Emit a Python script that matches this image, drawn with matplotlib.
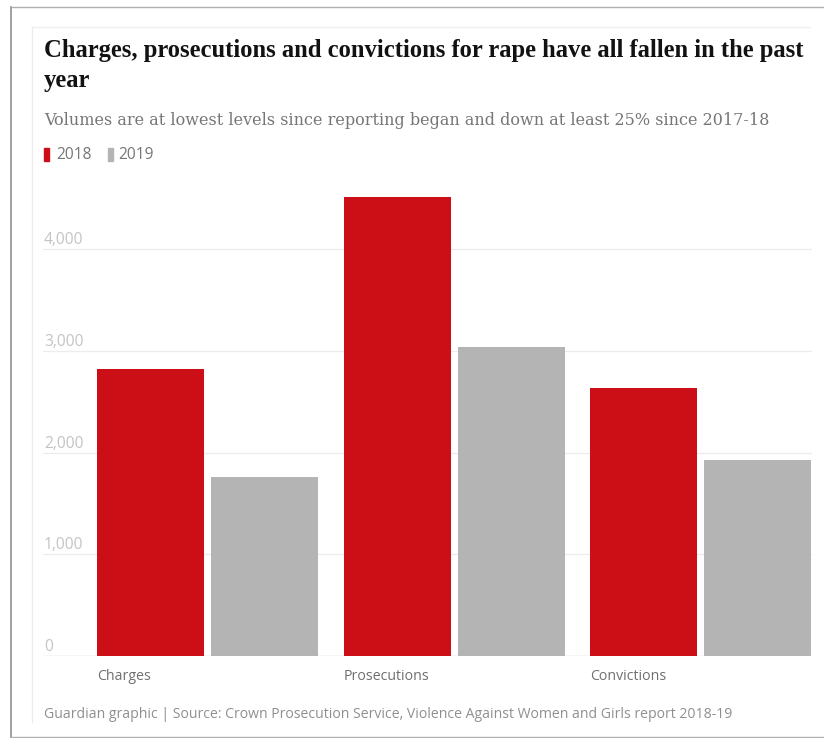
import numpy as np
import matplotlib
matplotlib.use("Agg")
import matplotlib.pyplot as plt
from matplotlib.patches import Rectangle
from matplotlib.lines import Line2D
from matplotlib.transforms import offset_copy

# data
categories = ["Charges", "Prosecutions", "Convictions"]
years = ["2018", "2019"]
values_2018 = [2822, 4517, 2635]
values_2019 = [1758, 3034, 1925]
yticks = [0, 1000, 2000, 3000, 4000]
ytick_labels = ["0", "1,000", "2,000", "3,000", "4,000"]

title_1 = "Charges, prosecutions and convictions for rape have all fallen in the past"
title_2 = "year"
subtitle = "Volumes are at lowest levels since reporting began and down at least 25% since 2017-18"
footer = "Guardian graphic | Source: Crown Prosecution Service, Violence Against Women and Girls report 2018-19"

RED = "#cc0f16"
GREY = "#b4b4b5"

W, H = 824, 738
fig = plt.figure(figsize=(W / 100, H / 100), dpi=100)
fig.patch.set_facecolor("white")

def fx(px):
    return px / W

def fy(py):
    return 1 - py / H

renderer = fig.canvas.get_renderer()

def fit_text(x, y, s, width, size, **kw):
    t = fig.text(fx(x), fy(y), s, fontsize=size, **kw)
    w = t.get_window_extent(renderer).width
    t.set_fontsize(size * width / w)
    return t

# frame like the screenshot
fig.add_artist(Line2D([fx(11), fx(11)], [fy(7), fy(737)], color="#9a9a9a", lw=1.3))
fig.add_artist(Line2D([fx(11), fx(824)], [fy(7), fy(7)], color="#b0b0b0", lw=1.0))
fig.add_artist(Line2D([fx(11), fx(824)], [fy(737), fy(737)], color="#b0b0b0", lw=1.0))
fig.add_artist(Line2D([fx(32), fx(32)], [fy(27), fy(722)], color="#ececec", lw=1.0))
fig.add_artist(Line2D([fx(32), fx(810)], [fy(27), fy(27)], color="#f0f0f0", lw=1.0))

# headings
fit_text(44, 57, title_1, 763, 15, family="Liberation Serif", weight="bold",
         color="#121212", va="baseline")
t2 = fig.text(fx(44), fy(87), title_2, family="Liberation Serif", weight="bold",
              color="#121212", va="baseline")
t2.set_fontsize(fig.texts[0].get_fontsize())
fit_text(44, 125, subtitle, 718, 11, family="DejaVu Serif", color="#767676", va="baseline")

# legend
for lx, tx, col, lab in [(44, 56, RED, years[0]), (108, 118, GREY, years[1])]:
    fig.add_artist(Rectangle((fx(lx), fy(161)), 5 / W, 13 / H, color=col,
                             transform=fig.transFigure))
    fig.text(fx(tx), fy(155), lab, family="Open Sans", fontsize=11.2,
             color="#767676", va="center")

# axes: x from px 43 to 812, y zero at px 656, 1000 units = 101.7 px
y_top = 4600
ax_bottom_px = 656
ax_top_px = ax_bottom_px - y_top / 1000 * 101.7
ax = fig.add_axes([fx(43), fy(ax_bottom_px), (812 - 43) / W, (ax_bottom_px - ax_top_px) / H])

step = 246.7
w = 107 / step
off = 57 / step
x = np.arange(len(categories))
ax.bar(x - off, values_2018, width=w, color=RED, zorder=2)
ax.bar(x + off, values_2019, width=w, color=GREY, zorder=2)

ax.set_xlim((43 - 207.5) / step, 2 + (812 - 701) / step)
ax.set_ylim(0, y_top)

for s in ax.spines.values():
    s.set_visible(False)
ax.set_yticks(yticks)
ax.tick_params(axis="y", length=0, labelleft=False)
ax.yaxis.grid(True, color="#ececec", lw=0.9, zorder=0)
ax.axhline(0, color="#dcdcdc", lw=1.0, zorder=1)

label_tr = offset_copy(ax.transData, fig=fig, x=1, y=5, units="dots")
for v, lab in zip(yticks, ytick_labels):
    ax.text(ax.get_xlim()[0], v, lab, transform=label_tr, family="Open Sans",
            fontsize=11.2, color="#c4c4c4", va="baseline", ha="left")

ax.set_xticks(x - off - w / 2)
ax.set_xticklabels(categories, ha="left", family="Open Sans", fontsize=10.2, color="#6f6f6f")
ax.tick_params(axis="x", length=0, pad=9)

fit_text(44, 718, footer, 692, 9.5, family="Open Sans", color="#8f8f8f", va="baseline")

fig.savefig("out.png", dpi=100, facecolor="white")
